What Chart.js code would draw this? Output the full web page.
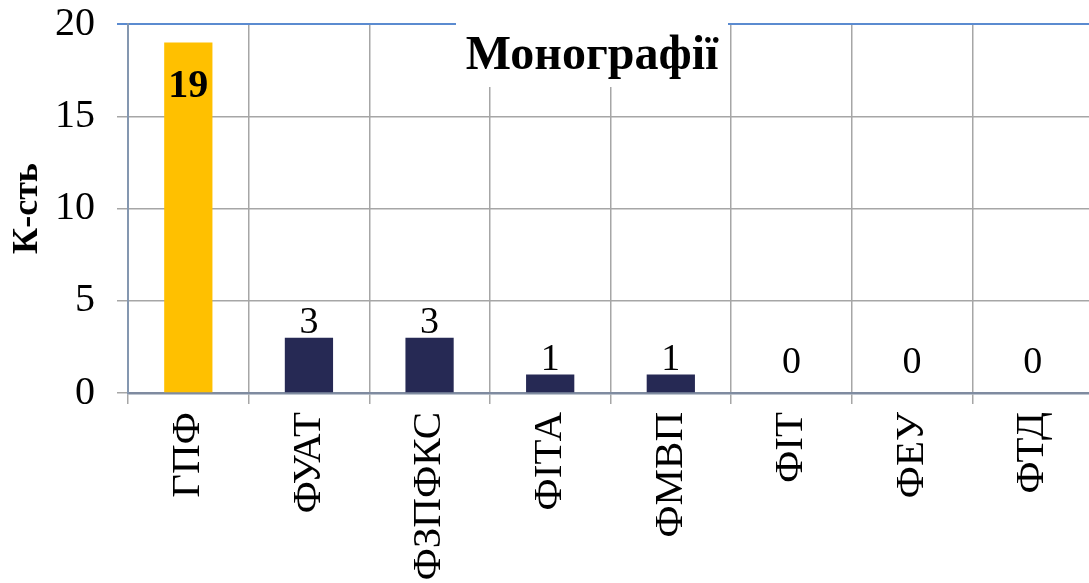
<!DOCTYPE html>
<html lang="uk">
<head>
  <meta charset="UTF-8">
  <title>Монографії</title>
  <script src="https://cdn.jsdelivr.net/npm/chart.js"></script>
  <style>
    html, body {
      margin: 0;
      padding: 0;
      background: #fff;
      overflow: hidden;
    }
    #wrap {
      position: relative;
      width: 1093px;
      height: 583px;
    }
  </style>
</head>
<body>
  <div id="wrap"><canvas id="chart1"></canvas></div>

  <script>
    const categories = ["ГПФ", "ФУАТ", "ФЗПФКС", "ФІТА", "ФМВП", "ФІТ", "ФЕУ", "ФТД"];
    const counts = [19, 3, 3, 1, 1, 0, 0, 0];
    const yTicks = [0, 5, 10, 15, 20];
    const chartTitle = "Монографії";
    const yTitle = "К-сть";

    const serif = "'Liberation Serif', 'Times New Roman', serif";
    const barColors = counts.map((v, i) => i === 0 ? "#ffc000" : "#262954");

    // value labels: first bar inside (bold), others above
    const valueLabels = {
      id: "valueLabels",
      afterDatasetsDraw(chart) {
        const ctx = chart.ctx;
        const meta = chart.getDatasetMeta(0);
        const base = chart.scales.y.getPixelForValue(0);
        ctx.save();
        ctx.fillStyle = "#000";
        ctx.textAlign = "center";
        ctx.textBaseline = "alphabetic";
        meta.data.forEach((bar, i) => {
          const v = counts[i];
          if (i === 0) {
            ctx.font = "bold 40px " + serif;
            ctx.fillText(v, bar.x, bar.y + 55);
          } else {
            ctx.font = "38px " + serif;
            ctx.fillText(v, bar.x, Math.min(bar.y - 5, base - 20));
          }
        });
        ctx.restore();
      }
    };

    // title sits inside the plot on a white box
    const boxedTitle = {
      id: "boxedTitle",
      afterDraw(chart) {
        const ctx = chart.ctx;
        const a = chart.chartArea;
        const cx = a.left + 464;
        ctx.save();
        ctx.fillStyle = "#fff";
        ctx.fillRect(cx - 136, a.top - 4, 272, 67);
        ctx.fillStyle = "#000";
        ctx.font = "bold 48px " + serif;
        ctx.textAlign = "center";
        ctx.textBaseline = "middle";
        ctx.fillText(chartTitle, cx, a.top + 33);
        ctx.restore();
      }
    };

    new Chart(document.getElementById("chart1"), {
      type: "bar",
      data: {
        labels: categories,
        datasets: [{
          data: counts,
          backgroundColor: barColors,
          categoryPercentage: 1,
          barPercentage: 0.4
        }]
      },
      options: {
        responsive: true,
        maintainAspectRatio: false,
        animation: false,
        layout: { padding: { top: 24, left: 0, right: 0, bottom: 0 } },
        plugins: {
          legend: { display: false },
          tooltip: { enabled: false }
        },
        scales: {
          x: {
            grid: {
              color: "#a6a6a6",
              lineWidth: 1.5,
              tickLength: 11,
              offset: true
            },
            border: { color: "#7f8ba0", width: 2.5 },
            ticks: {
              color: "#000",
              font: { family: serif, size: 41 },
              minRotation: 90,
              maxRotation: 90,
              padding: 8
            },
            afterFit(scale) {
              scale.height = 190;
              scale.paddingLeft = 0;
              scale.paddingRight = 0;
            }
          },
          y: {
            min: 0,
            max: 20,
            afterBuildTicks(scale) {
              scale.ticks = yTicks.map(v => ({ value: v }));
            },
            grid: {
              color: ctx => ctx.tick && ctx.tick.value === 20 ? "#5b8bd0" : "#a6a6a6",
              lineWidth: ctx => ctx.tick && ctx.tick.value === 20 ? 2 : 1.5,
              tickLength: 11
            },
            border: { color: "#8497b0", width: 2 },
            ticks: {
              color: "#000",
              font: { family: serif, size: 40 },
              padding: 22
            },
            title: {
              display: true,
              text: yTitle,
              color: "#000",
              font: { family: serif, size: 36, weight: "bold" },
              padding: { top: 6, bottom: 0 }
            },
            afterFit(scale) {
              scale.width = 128;
              scale.paddingTop = 0;
              scale.paddingBottom = 0;
            }
          }
        }
      },
      plugins: [valueLabels, boxedTitle]
    });
  </script>
</body>
</html>
